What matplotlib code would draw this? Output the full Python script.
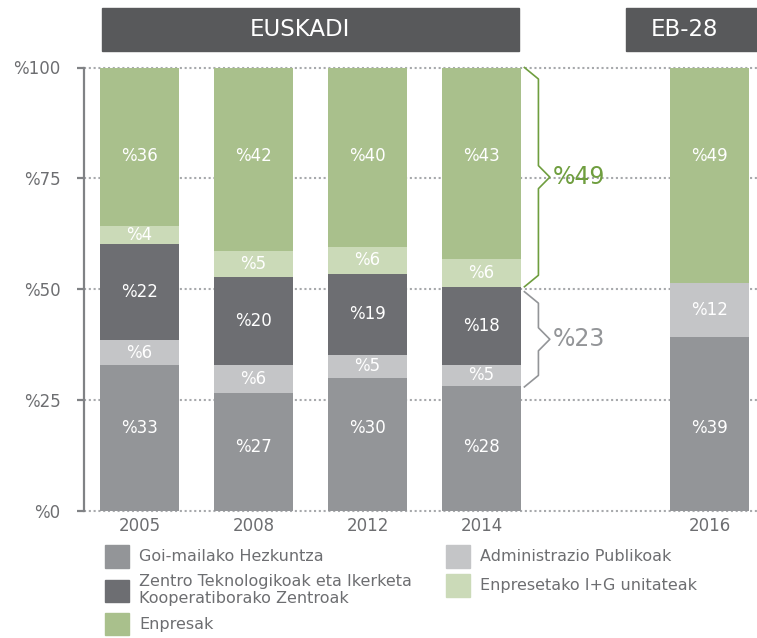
import numpy as np
import matplotlib
matplotlib.use('Agg')
import matplotlib.pyplot as plt
import matplotlib.transforms as mtransforms
from matplotlib.patches import Rectangle, Patch

# data (segment heights in %)
years = ['2005', '2008', '2012', '2014', '2016']
goi = [32.8, 26.6, 30.0, 28.2, 39.2]
admin = [5.7, 6.2, 5.1, 4.6, 12.1]
zentro = [21.7, 19.9, 18.3, 17.7, 0.0]
ig = [4.1, 5.9, 6.1, 6.3, 0.0]
enpresak = [35.7, 41.4, 40.5, 43.2, 48.7]

# printed labels
goi_pct = [33, 27, 30, 28, 39]
admin_pct = [6, 6, 5, 5, 12]
zentro_pct = [22, 20, 19, 18, None]
ig_pct = [4, 5, 6, 6, None]
enpresak_pct = [36, 42, 40, 43, 49]

series_names = ['Goi-mailako Hezkuntza', 'Administrazio Publikoak',
                'Zentro Teknologikoak eta Ikerketa\nKooperatiborako Zentroak',
                'Enpresetako I+G unitateak', 'Enpresak']
brace_labels = ['%49', '%23']
yticks = [0, 25, 50, 75, 100]

colors = ['#939598', '#c4c5c7', '#6d6e72', '#cbdab8', '#a9c08c']
txt_gray = '#6d6e71'
green = '#6f9e3f'

pos = np.array([0, 1, 2, 3, 5])
w = 0.693

fig = plt.figure(figsize=(7.57, 6.38), dpi=100)
ax = fig.add_axes([84/757, (638-510.5)/638, (757-84)/757, (510.5-67.5)/638])
ax.set_xlim(-0.487, 5.417)
ax.set_ylim(0, 100)

# dotted grid
for y in yticks:
    ax.axhline(y, color='#a7a9ac', lw=1.5, ls=(0, (1, 1.3)), zorder=0, clip_on=False)

values = [goi, admin, zentro, ig, enpresak]
pcts = [goi_pct, admin_pct, zentro_pct, ig_pct, enpresak_pct]
bottom = np.zeros(len(years))
for k, (vals, lbls) in enumerate(zip(values, pcts)):
    vals = np.array(vals)
    ax.bar(pos, vals, w, bottom=bottom, color=colors[k], zorder=2)
    for i in range(len(years)):
        if lbls[i] is None:
            continue
        yc = bottom[i] + vals[i] / 2
        if k == 4:
            yc = 80
        elif k == 0:
            yc = max(yc, 14.3) if vals[i] < 29 else 18.6
        ax.text(pos[i], yc, f'%{lbls[i]}', color='white', fontsize=12,
                ha='center', va='center', zorder=3)
    bottom += vals

# axis styling
for s in ['top', 'right', 'bottom']:
    ax.spines[s].set_visible(False)
ax.spines['left'].set_color('#808285')
ax.spines['left'].set_linewidth(1.6)
ax.set_yticks(yticks)
ax.set_yticklabels([f'%{t}' for t in yticks])
ax.set_xticks(pos)
ax.set_xticklabels(years)
ax.tick_params(axis='y', length=5, width=1.6, color='#808285', pad=12,
               labelsize=12, labelcolor=txt_gray)
ax.tick_params(axis='x', length=0, pad=5, labelsize=12, labelcolor=txt_gray)


def brace(x0, x1, xt, ylo, yhi, color, d=2.6):
    mid = (ylo + yhi) / 2
    xs = [x0, x1, x1, xt, x1, x1, x0]
    ys = [yhi, yhi - d, mid + d, mid, mid - d, ylo + d, ylo]
    ax.plot(xs, ys, color=color, lw=1.2, clip_on=False, zorder=3)
    return mid


i = 3
x0 = pos[i] + w / 2 + 0.03
top_z = goi[i] + admin[i] + zentro[i]
m1 = brace(x0, x0 + 0.123, x0 + 0.223, top_z, 100, green)
ax.text(x0 + 0.245, m1, brace_labels[0], color=green, fontsize=17,
        ha='left', va='center')
m2 = brace(x0, x0 + 0.123, x0 + 0.223, goi[i] - 0.3, top_z - 1.1, '#939598')
ax.text(x0 + 0.245, m2, brace_labels[1], color='#939598', fontsize=17,
        ha='left', va='center')

# header boxes
trans = mtransforms.blended_transform_factory(ax.transData, fig.transFigure)
ax.add_patch(Rectangle((-0.33, 0.920), 3.66, 0.0674, transform=trans,
                       color='#58595b', clip_on=False))
ax.add_patch(Rectangle((4.27, 0.920), 1.3, 0.0674, transform=trans,
                       color='#58595b', clip_on=False))
ax.text(1.41, 0.9538, 'EUSKADI', transform=trans, color='white', fontsize=16.5,
        ha='center', va='center')
ax.text(4.78, 0.9538, 'EB-28', transform=trans, color='white', fontsize=16.5,
        ha='center', va='center')

# legend in two columns
h = [Patch(color=c) for c in colors]
leg_kw = dict(frameon=False, fontsize=11.5, handlelength=1.5, handleheight=1.8,
              handletextpad=0.65, borderpad=0, borderaxespad=0, labelspacing=0.4,
              labelcolor=txt_gray, loc='upper left')
fig.legend([h[0], h[2], h[4]], [series_names[0], series_names[2], series_names[4]],
           bbox_to_anchor=(105/757, (638-545)/638), **leg_kw)
fig.legend([h[1], h[3]], [series_names[1], series_names[3]],
           bbox_to_anchor=(446/757, (638-545)/638), **leg_kw)

fig.savefig('out.png', dpi=100)
